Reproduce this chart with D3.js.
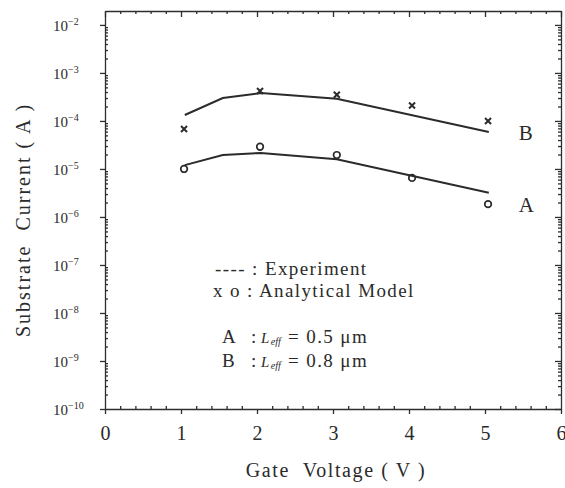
<!DOCTYPE html>
<html>
<head>
<meta charset="utf-8">
<script src="https://cdn.jsdelivr.net/npm/d3@7"></script>
<style>
  body { margin: 0; background: #fff; }
  svg text { font-family: "Liberation Serif", "DejaVu Serif", serif; }
  .axis path, .axis line { stroke: #2e2e2e; stroke-width: 1.3; }
  .axis text { fill: #2a2a2a; }
</style>
</head>
<body>
<script>
// gate voltage ticks and current decades
const xTicks = [0, 1, 2, 3, 4, 5, 6]
const yExps = [-2, -3, -4, -5, -6, -7, -8, -9, -10]

// experiment (solid lines)
const expV = [1.05, 1.55, 2.05, 3.05, 5.05]
const expA = [1.2e-5, 1.95e-5, 2.15e-5, 1.6e-5, 3.2e-6]
const expB = [1.33e-4, 3.0e-4, 3.8e-4, 2.9e-4, 5.9e-5]

// analytical model (x and o)
const modelV = [1.04, 2.04, 3.05, 4.04, 5.04]
const modelA = [1.0e-5, 2.9e-5, 1.95e-5, 6.5e-6, 1.85e-6]
const modelB = [6.8e-5, 4.2e-4, 3.5e-4, 2.1e-4, 1.0e-4]

const W = 565, H = 488
const pLeft = 105, pRight = 561, pTop = 11, pBottom = 409
const ink = "#2b2b2b"
const serif = "'Liberation Serif', 'DejaVu Serif', serif"

const svg = d3.select("body").append("svg")
	.attr("width", W)
	.attr("height", H)
	.attr("font-family", serif)

const x = d3.scaleLinear().domain([0, 6]).range([pLeft, pRight])
const y = d3.scaleLog().domain([1e-10, Math.pow(10, -1.71)]).range([pBottom, pTop])

const xMinor = d3.range(0, 6.01, 0.2).filter(v => Math.abs(v - Math.round(v)) > 0.01)
const yMinor = []
for (let e = -10; e < -1; e++) for (let m = 2; m <= 9; m++) {
	let v = m * Math.pow(10, e)
	if (v < y.domain()[1]) yMinor.push(v)
}

// bottom axis: major ticks out, minor in
const gx = svg.append("g").attr("class", "axis")
	.attr("transform", "translate(0," + pBottom + ")")
	.call(d3.axisBottom(x).tickValues(xTicks).tickSize(5).tickPadding(12).tickSizeOuter(0).tickFormat(d3.format("d")))
gx.attr("font-family", serif).attr("font-size", 20)
svg.append("g").attr("class", "axis")
	.attr("transform", "translate(0," + pBottom + ")")
	.call(d3.axisTop(x).tickValues(xMinor).tickSize(3).tickFormat("").tickSizeOuter(0))
	.select(".domain").remove()

// top axis: ticks inward
svg.append("g").attr("class", "axis")
	.attr("transform", "translate(0," + pTop + ")")
	.call(d3.axisBottom(x).tickValues(xTicks).tickSize(6).tickFormat("").tickSizeOuter(0))
svg.append("g").attr("class", "axis")
	.attr("transform", "translate(0," + pTop + ")")
	.call(d3.axisBottom(x).tickValues(xMinor).tickSize(3).tickFormat("").tickSizeOuter(0))
	.select(".domain").remove()

// left axis
const yMajor = yExps.map(e => Math.pow(10, e))
const gy = svg.append("g").attr("class", "axis")
	.attr("transform", "translate(" + pLeft + ",0)")
	.call(d3.axisLeft(y).tickValues(yMajor).tickSize(5).tickFormat("").tickSizeOuter(0))
gy.attr("font-family", serif)
svg.append("g").attr("class", "axis")
	.attr("transform", "translate(" + pLeft + ",0)")
	.call(d3.axisRight(y).tickValues(yMinor).tickSize(3).tickFormat("").tickSizeOuter(0))
	.select(".domain").remove()

gy.selectAll(".tick").append("text")
	.attr("x", -52)
	.attr("dy", "0.35em")
	.attr("text-anchor", "start")
	.attr("font-size", 15)
	.each(function(d) {
		let t = d3.select(this)
		t.append("tspan").text("10")
		t.append("tspan").attr("dy", -6).attr("font-size", 10).text("\u2212" + Math.round(-Math.log10(d)))
	})

// right axis: ticks inward
svg.append("g").attr("class", "axis")
	.attr("transform", "translate(" + pRight + ",0)")
	.call(d3.axisLeft(y).tickValues(yMajor).tickSize(6).tickFormat("").tickSizeOuter(0))
svg.append("g").attr("class", "axis")
	.attr("transform", "translate(" + pRight + ",0)")
	.call(d3.axisLeft(y).tickValues(yMinor).tickSize(3).tickFormat("").tickSizeOuter(0))
	.select(".domain").remove()

// experiment lines
const line = d3.line().x(d => x(d[0])).y(d => y(d[1]))
;[expA, expB].forEach(s => {
	svg.append("path")
		.datum(expV.map((v, i) => [v, s[i]]))
		.attr("d", line)
		.attr("fill", "none")
		.attr("stroke", ink)
		.attr("stroke-width", 2)
})

// model markers
svg.selectAll(".mo").data(modelV.map((v, i) => [v, modelA[i]])).enter()
	.append("circle")
	.attr("cx", d => x(d[0]))
	.attr("cy", d => y(d[1]))
	.attr("r", 3.3)
	.attr("fill", "none")
	.attr("stroke", ink)
	.attr("stroke-width", 1.7)

const s = 3
svg.selectAll(".mx").data(modelV.map((v, i) => [v, modelB[i]])).enter()
	.append("path")
	.attr("d", d => {
		let cx = x(d[0]), cy = y(d[1])
		return "M" + (cx - s) + "," + (cy - s) + "L" + (cx + s) + "," + (cy + s) +
			"M" + (cx - s) + "," + (cy + s) + "L" + (cx + s) + "," + (cy - s)
	})
	.attr("stroke", ink)
	.attr("stroke-width", 2)

// curve labels
svg.append("text").attr("x", x(5.05) + 30).attr("y", y(expB[4]) + 8)
	.attr("font-size", 21).attr("fill", ink).text("B")
svg.append("text").attr("x", x(5.05) + 30).attr("y", y(modelA[4]) + 8)
	.attr("font-size", 21).attr("fill", ink).text("A")

// legend text
const lg = svg.append("g").attr("fill", ink).attr("font-size", 19)
	.attr("letter-spacing", 1.4).attr("xml:space", "preserve")
lg.append("text").attr("x", 215).attr("y", 275).text("----  :  Experiment")
lg.append("text").attr("x", 213).attr("y", 297).text("x o  :  Analytical Model")

function leff(yy, letter, val) {
	let t = lg.append("text").attr("y", yy)
	t.append("tspan").attr("x", 222).text(letter)
	t.append("tspan").attr("x", 251).text(":")
	t.append("tspan").attr("x", 261).attr("font-style", "italic").attr("font-size", 15).text("L")
	t.append("tspan").attr("font-style", "italic").attr("font-size", 10).attr("letter-spacing", 0).attr("dy", 2).text("eff")
	t.append("tspan").attr("x", 288).attr("dy", -2).text("= " + val + " \u03bcm")
}
leff(343, "A", "0.5")
leff(367, "B", "0.8")

// axis titles
svg.append("text")
	.attr("x", 336).attr("y", 477)
	.attr("text-anchor", "middle")
	.attr("font-size", 20).attr("fill", ink)
	.attr("letter-spacing", 1.6)
	.attr("xml:space", "preserve")
	.text("Gate  Voltage ( V )")

svg.append("text")
	.attr("transform", "translate(30,220) rotate(-90)")
	.attr("text-anchor", "middle")
	.attr("font-size", 20).attr("fill", ink)
	.attr("letter-spacing", 2)
	.attr("xml:space", "preserve")
	.text("Substrate  Current ( A )")
</script>
</body>
</html>
